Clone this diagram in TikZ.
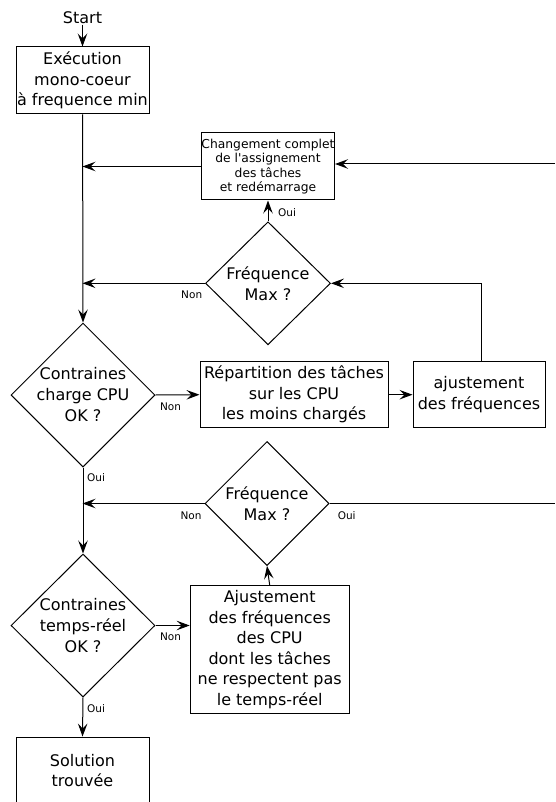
\documentclass[tikz,border=0pt]{standalone}
\usepackage{fontspec}
\setmainfont{DejaVu Sans}
\usetikzlibrary{shapes.geometric,arrows.meta}
\begin{document}
\begin{tikzpicture}[x=1pt,y=-1pt,
  line width=1pt,
  arr/.style={-{Stealth[length=13pt,width=9.5pt,inset=5pt]}},
  box/.style={draw,rectangle,inner sep=0pt,align=center,font=\fontsize{16}{20.5}\selectfont},
  dia/.style={draw,diamond,inner sep=0pt},
  dtxt/.style={align=center,inner sep=0pt,font=\fontsize{16}{21}\selectfont},
  lbl/.style={inner sep=0pt,font=\fontsize{10.5}{12}\selectfont}]
\useasboundingbox (0,0) rectangle (555,802);
% nodes
\node[inner sep=0pt,font=\fontsize{16}{20}\selectfont] (start) at (82.5,18) {Start};
\node[box,minimum width=133,minimum height=67] (exec) at (82.5,80.5) {Exécution\\mono-coeur\\à frequence min};
\node[box,minimum width=133,minimum height=67,font=\fontsize{12.3}{14.5}\selectfont] (chg) at (268,166.5) {Changement complet\\de l\textquotesingle assignement\\des tâches\\et redémarrage};
\node[dia,minimum width=125,minimum height=123] (f1) at (268,283.3) {};
\node[dtxt] at (f1) {Fréquence\\Max ?};
\node[dia,minimum width=144,minimum height=144] (c1) at (83,395) {};
\node[dtxt] at (c1) {Contraines\\charge CPU\\OK ?};
\node[box,minimum width=188,minimum height=66] (rep) at (294,394.7) {Répartition des tâches\\sur les CPU\\les moins chargés};
\node[box,minimum width=132,minimum height=66] (ajf) at (479,394.7) {ajustement\\des fréquences};
\node[dia,minimum width=124,minimum height=124] (f2) at (267,503.5) {};
\node[dtxt] at (f2) {Fréquence\\Max ?};
\node[dia,minimum width=144,minimum height=143] (c2) at (83,625.5) {};
\node[dtxt] at (c2) {Contraines\\temps-réel\\OK ?};
\node[box,minimum width=159,minimum height=128] (ajc) at (269.7,649.5) {Ajustement\\des fréquences\\des CPU\\dont les tâches\\ne respectent pas\\le temps-réel};
\node[box,minimum width=133,minimum height=67] (sol) at (82.5,770.5) {Solution\\trouvée};
% coordinates
\coordinate (j1) at (exec.south |- chg.west);
\coordinate (j2) at (exec.south |- f1.west);
\coordinate (j3) at (exec.south |- f2.west);
\coordinate (eR1) at (555,164);
\coordinate (eR2) at (555,503.5);
\coordinate (tr) at (481,283.3);
% connectors
\draw[arr] (start) -- (exec);
\draw[arr] (exec) -- (c1.north);
\draw[arr] (chg.west) -- (j1);
\draw[arr] (f1.west) -- (j2);
\draw[arr] (f1.north) -- (chg.south);
\draw[arr] (eR1) -- (chg.east |- eR1);
\draw[arr] (ajf.north -| tr) -- (tr) -- (f1.east);
\draw[arr] (c1.east) -- (rep.west);
\draw[arr] (rep.east) -- (ajf.west);
\draw[arr] (c1.south) -- (c2.north);
\draw[arr] (f2.west) -- (j3);
\draw (f2.east) -- (eR2);
\draw[arr] (ajc.north) -- (f2.south);
\draw[arr] (c2.east) -- (ajc.west |- c2.east);
\draw[arr] (c2.south) -- (sol.north);
% labels
\node[lbl] at (287,213) {Oui};
\node[lbl] at (191.7,295) {Non};
\node[lbl] at (170.5,407) {Non};
\node[lbl] at (96,478) {Oui};
\node[lbl] at (191,516) {Non};
\node[lbl] at (346.7,516) {Oui};
\node[lbl] at (170.5,637) {Non};
\node[lbl] at (96,709) {Oui};
\end{tikzpicture}
\end{document}
